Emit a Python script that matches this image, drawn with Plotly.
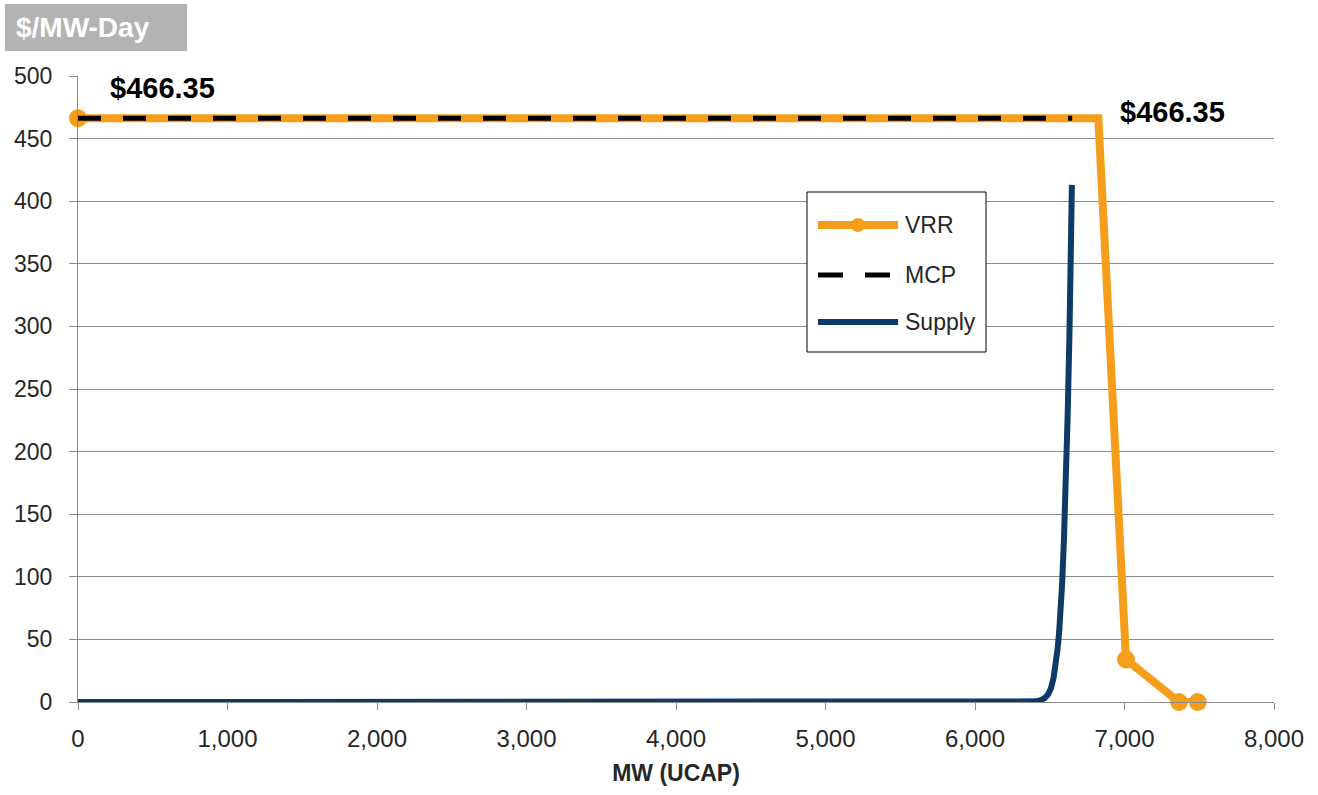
import plotly.graph_objects as go

# Variable Resource Requirement curve (MW, $/MW-Day)
vrr_mw = [0, 6825, 7010, 7365, 7490]
vrr_price = [466.35, 466.35, 34, 0, 0]
vrr_marker_size = [18, 0, 18, 18, 18]

# Market clearing price
mcp_price = 466.35
mcp_mw = [0, 6650]

# Supply offers
supply_mw = [0, 6380, 6410, 6440, 6465, 6488, 6508, 6525, 6540, 6552, 6563,
             6573, 6583, 6595, 6608, 6620, 6632, 6642, 6648]
supply_price = [0, 0, 0.5, 1.5, 3, 6, 11, 19, 30, 42, 56,
                72, 95, 130, 175, 230, 295, 360, 413]

x_ticks = list(range(0, 8001, 1000))
y_ticks = list(range(0, 501, 50))

ORANGE = "#F59E1B"
NAVY = "#0E3A68"
GRID = "#8C8C8C"
FONT = "Liberation Sans, Arial, sans-serif"

# plot-area geometry in pixels, used to place paper-referenced decorations
W, H = 1318, 795
L, R, T, B = 78, 1274, 76, 702


def px(x):
    return (x - L) / (R - L)


def py(y):
    return (B - y) / (B - T)


fig = go.Figure()

fig.add_trace(go.Scatter(
    x=vrr_mw, y=vrr_price, mode="lines+markers", name="VRR",
    line=dict(color=ORANGE, width=8),
    marker=dict(color=ORANGE, size=vrr_marker_size, opacity=1, line=dict(width=0)),
    cliponaxis=False, showlegend=False,
))
fig.add_trace(go.Scatter(
    x=mcp_mw, y=[mcp_price] * len(mcp_mw), mode="lines", name="MCP",
    line=dict(color="black", width=5, dash="23px,22px"),
    cliponaxis=False, showlegend=False,
))
fig.add_trace(go.Scatter(
    x=supply_mw, y=supply_price, mode="lines", name="Supply",
    line=dict(color=NAVY, width=6),
    cliponaxis=False, showlegend=False,
))

shapes = []
annotations = []

# Y-axis unit label in a grey box
shapes.append(dict(type="rect", xref="paper", yref="paper",
                   x0=px(5), x1=px(187), y0=py(51), y1=py(4),
                   fillcolor="#B3B3B3", line=dict(width=0), layer="above"))
annotations.append(dict(xref="paper", yref="paper", x=px(14), y=py(28),
                        xanchor="left", yanchor="middle", showarrow=False,
                        text="<b>$/MW-Day</b>",
                        font=dict(family=FONT, size=28, color="white")))

# Price labels
label = f"<b>${mcp_price:,.2f}</b>"
annotations.append(dict(xref="paper", yref="paper", x=px(108), y=py(88),
                        xanchor="left", yanchor="middle", showarrow=False,
                        text=label, font=dict(family=FONT, size=29, color="black")))
annotations.append(dict(xref="paper", yref="paper", x=px(1118), y=py(112),
                        xanchor="left", yanchor="middle", showarrow=False,
                        text=label, font=dict(family=FONT, size=29, color="black")))

# Legend box
shapes.append(dict(type="rect", xref="paper", yref="paper",
                   x0=px(807), x1=px(986), y0=py(352), y1=py(192),
                   fillcolor="white", line=dict(color="black", width=1), layer="above"))
legend_items = [
    ("VRR", 225, dict(color=ORANGE, width=8)),
    ("MCP", 275, dict(color="black", width=5, dash="25px,22px")),
    ("Supply", 322, dict(color=NAVY, width=6)),
]
for name, yy, ln in legend_items:
    shapes.append(dict(type="line", xref="paper", yref="paper",
                       x0=px(818), x1=px(898), y0=py(yy), y1=py(yy),
                       line=ln, layer="above"))
    annotations.append(dict(xref="paper", yref="paper", x=px(903), y=py(yy),
                            xanchor="left", yanchor="middle", showarrow=False,
                            text=name, font=dict(family=FONT, size=23, color="#262626")))
# marker on the VRR legend line
shapes.append(dict(type="circle", xref="paper", yref="paper",
                   x0=px(851), x1=px(865), y0=py(232), y1=py(218),
                   fillcolor=ORANGE, line=dict(width=0), layer="above"))

fig.update_layout(
    width=W, height=H,
    margin=dict(l=L, r=W - R, t=T, b=H - B),
    paper_bgcolor="white", plot_bgcolor="white",
    font=dict(family=FONT, size=22, color="#262626"),
    showlegend=False,
    shapes=shapes,
    annotations=annotations,
    xaxis=dict(
        range=[0, 8000], tickvals=x_ticks, tickformat=",",
        showgrid=False, zeroline=False,
        showline=True, linecolor=GRID, linewidth=1,
        ticks="outside", ticklen=7, tickcolor=GRID,
        tickfont=dict(size=24), ticklabelstandoff=8,
        title=dict(text="<b>MW (UCAP)</b>", font=dict(size=23, color="#262626"), standoff=14),
    ),
    yaxis=dict(
        range=[0, 500], tickvals=y_ticks,
        showgrid=True, gridcolor=GRID, gridwidth=1, zeroline=False,
        showline=True, linecolor=GRID, linewidth=1,
        ticks="outside", ticklen=8, tickcolor=GRID,
        tickfont=dict(size=23), ticklabelstandoff=12,
    ),
)

fig.write_html("out.html")
